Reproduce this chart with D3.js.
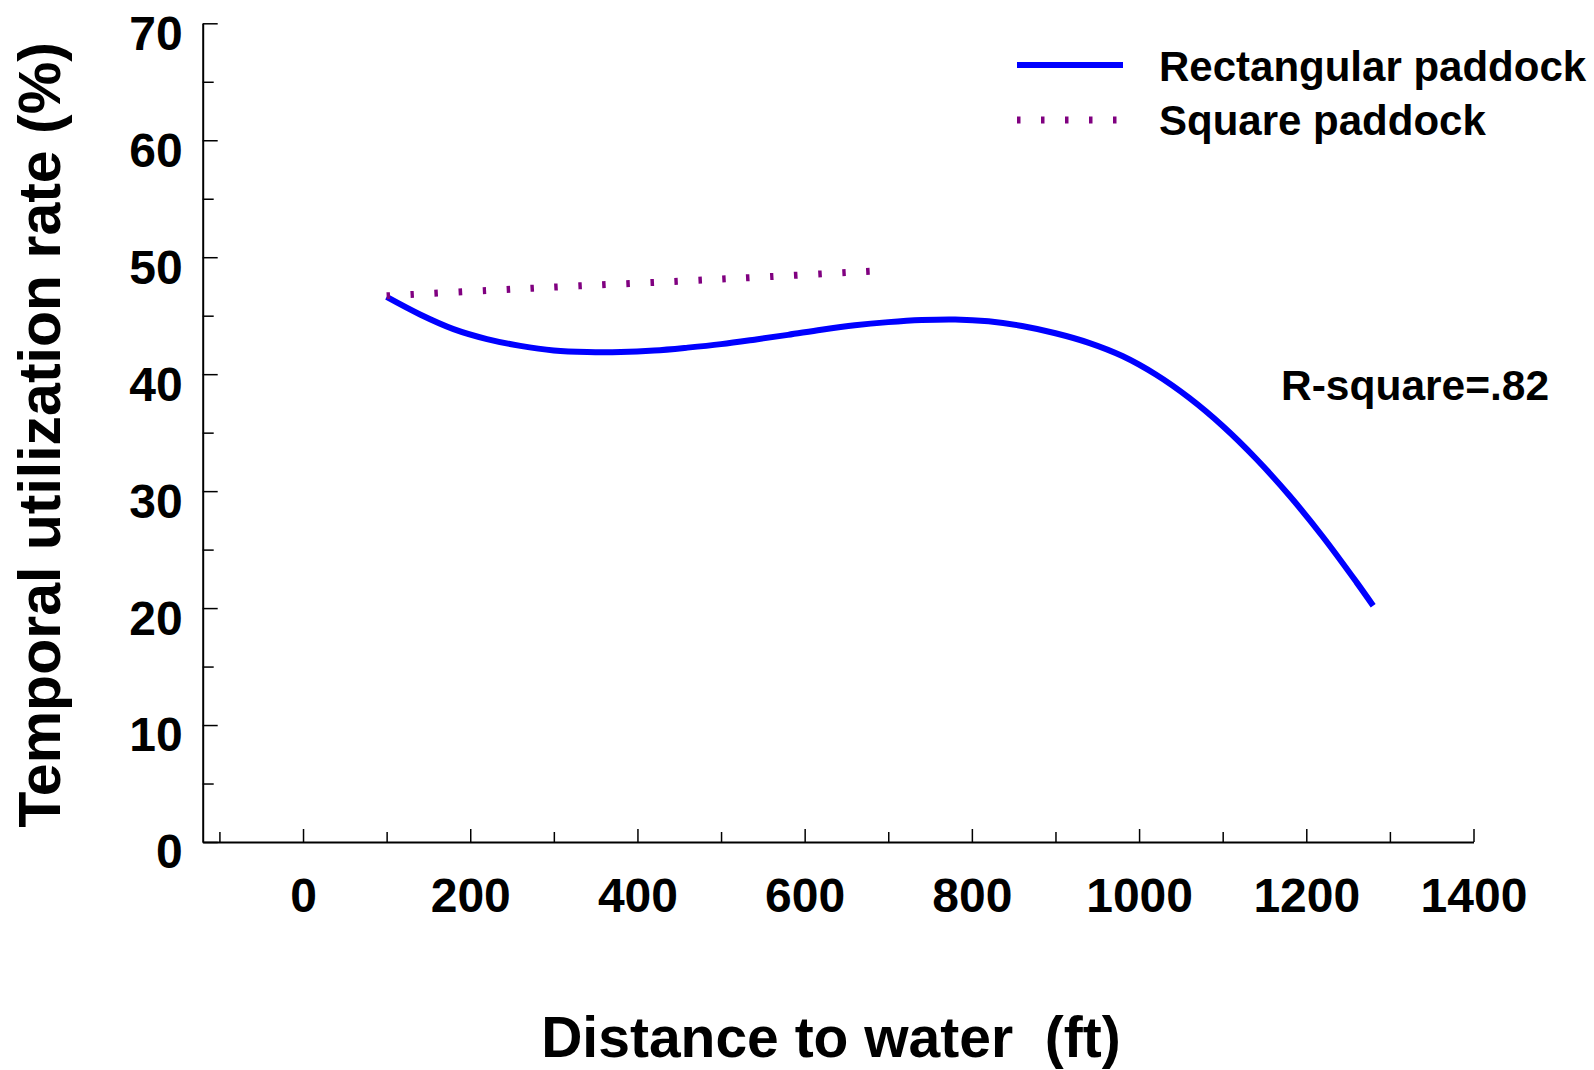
<!DOCTYPE html>
<html>
<head>
<meta charset="utf-8">
<script src="https://cdn.jsdelivr.net/npm/d3@7"></script>
<style>
  body { margin: 0; background: #fff; }
  text { font-family: "Liberation Sans", Arial, sans-serif; font-weight: bold; fill: #000; }
</style>
</head>
<body>
<svg id="chart" width="1594" height="1070"></svg>
<script>
// fitted curve, rectangular paddock
const rectDistance = [100, 140, 180, 220, 260, 300, 340, 380, 420, 460, 500, 540, 580, 620, 660, 700,
  740, 780, 820, 860, 900, 940, 980, 1020, 1060, 1100, 1140, 1180, 1220, 1260, 1280];
const rectRate = [46.6, 45.1, 43.85, 43.0, 42.42, 42.03, 41.89, 41.89, 42.02, 42.27, 42.57, 42.95, 43.36, 43.8, 44.18, 44.45,
  44.63, 44.68, 44.52, 44.12, 43.5, 42.68, 41.55, 39.97, 37.97, 35.57, 32.77, 29.6, 26.08, 22.22, 20.2];

// fitted line, square paddock
const squareDistance = [100, 220, 330, 450, 560, 680];
const squareRate = [46.7, 47.15, 47.55, 47.95, 48.35, 48.8];

const xMajorTicks = [0, 200, 400, 600, 800, 1000, 1200, 1400];
const xMinorTicks = [-100, 100, 300, 500, 700, 900, 1100, 1300];
const yMajorTicks = [0, 10, 20, 30, 40, 50, 60, 70];
const yMinorTicks = [5, 15, 25, 35, 45, 55, 65];

const seriesNames = ['Rectangular paddock', 'Square paddock'];
const seriesColors = ['#0000ff', '#800080'];

const svg = d3.select('#chart');
const margin = { top: 23.3, right: 120.5, bottom: 228, left: 202.7 };
const width = 1594 - margin.left - margin.right;
const height = 1070 - margin.top - margin.bottom;

const x = d3.scaleLinear().domain([-120, 1400]).range([0, width]);
const y = d3.scaleLinear().domain([0, 70]).range([height, 0]);

const g = svg.append('g').attr('transform', `translate(${margin.left},${margin.top})`);

// x axis, ticks pointing into the plot
g.append('g')
  .attr('transform', `translate(0,${height})`)
  .call(d3.axisBottom(x).tickValues(xMinorTicks).tickSizeInner(-10).tickSizeOuter(0).tickFormat(''))
  .call((a) => a.select('.domain').remove());
g.append('g')
  .attr('class', 'x-axis')
  .attr('transform', `translate(0,${height})`)
  .call(d3.axisBottom(x).tickValues(xMajorTicks).tickSizeInner(-13).tickSizeOuter(0)
    .tickPadding(36).tickFormat(d3.format('d')))
  .call((a) => a.selectAll('text').attr('font-size', 48));

// y axis
g.append('g')
  .call(d3.axisLeft(y).tickValues(yMinorTicks).tickSizeInner(-11).tickSizeOuter(0).tickFormat(''))
  .call((a) => a.select('.domain').remove());
g.append('g')
  .attr('class', 'y-axis')
  .call(d3.axisLeft(y).tickValues(yMajorTicks).tickSizeInner(-15).tickSizeOuter(0)
    .tickPadding(20).tickFormat(d3.format('d')))
  .call((a) => a.selectAll('text').attr('font-size', 48).attr('dy', '0.54em'));

g.selectAll('.domain').attr('stroke', '#000').attr('stroke-width', 2);
g.selectAll('.tick line').attr('stroke', '#000').attr('stroke-width', 1.5);
g.selectAll('.tick text').style('font-family', '"Liberation Sans", Arial, sans-serif').style('font-weight', 'bold');

const line = d3.line()
  .x((d) => x(d[0]))
  .y((d) => y(d[1]))
  .curve(d3.curveCatmullRom.alpha(0.5));

g.append('path')
  .datum(rectDistance.map((d, i) => [d, rectRate[i]]))
  .attr('d', line)
  .attr('fill', 'none')
  .attr('stroke', seriesColors[0])
  .attr('stroke-width', 6);

g.append('path')
  .datum(squareDistance.map((d, i) => [d, squareRate[i]]))
  .attr('d', line)
  .attr('fill', 'none')
  .attr('stroke', seriesColors[1])
  .attr('stroke-width', 7)
  .attr('stroke-dasharray', '3.5 20.5');

// Legend
const legend = svg.append('g').attr('transform', 'translate(1017, 0)');
legend.append('line')
  .attr('x1', 0).attr('x2', 106).attr('y1', 65).attr('y2', 65)
  .attr('stroke', seriesColors[0]).attr('stroke-width', 6);
legend.append('line')
  .attr('x1', 0).attr('x2', 102).attr('y1', 120).attr('y2', 120)
  .attr('stroke', seriesColors[1]).attr('stroke-width', 7)
  .attr('stroke-dasharray', '3.5 20.5');
legend.selectAll('.legend-label')
  .data(seriesNames)
  .join('text')
  .attr('class', 'legend-label')
  .attr('x', 142)
  .attr('y', (d, i) => 81 + i * 54)
  .attr('font-size', 42)
  .text((d) => d);

svg.append('text')
  .attr('x', 1281)
  .attr('y', 400)
  .attr('font-size', 42.5)
  .text('R-square=.82');

// axis titles
svg.append('text')
  .attr('transform', 'translate(60,435) rotate(-90)')
  .attr('text-anchor', 'middle')
  .attr('font-size', 59)
  .text('Temporal utilization rate (%)');

svg.append('text')
  .attr('x', 831)
  .attr('y', 1057)
  .attr('text-anchor', 'middle')
  .attr('font-size', 57)
  .style('white-space', 'pre')
  .text('Distance to water  (ft)');
</script>
</body>
</html>
